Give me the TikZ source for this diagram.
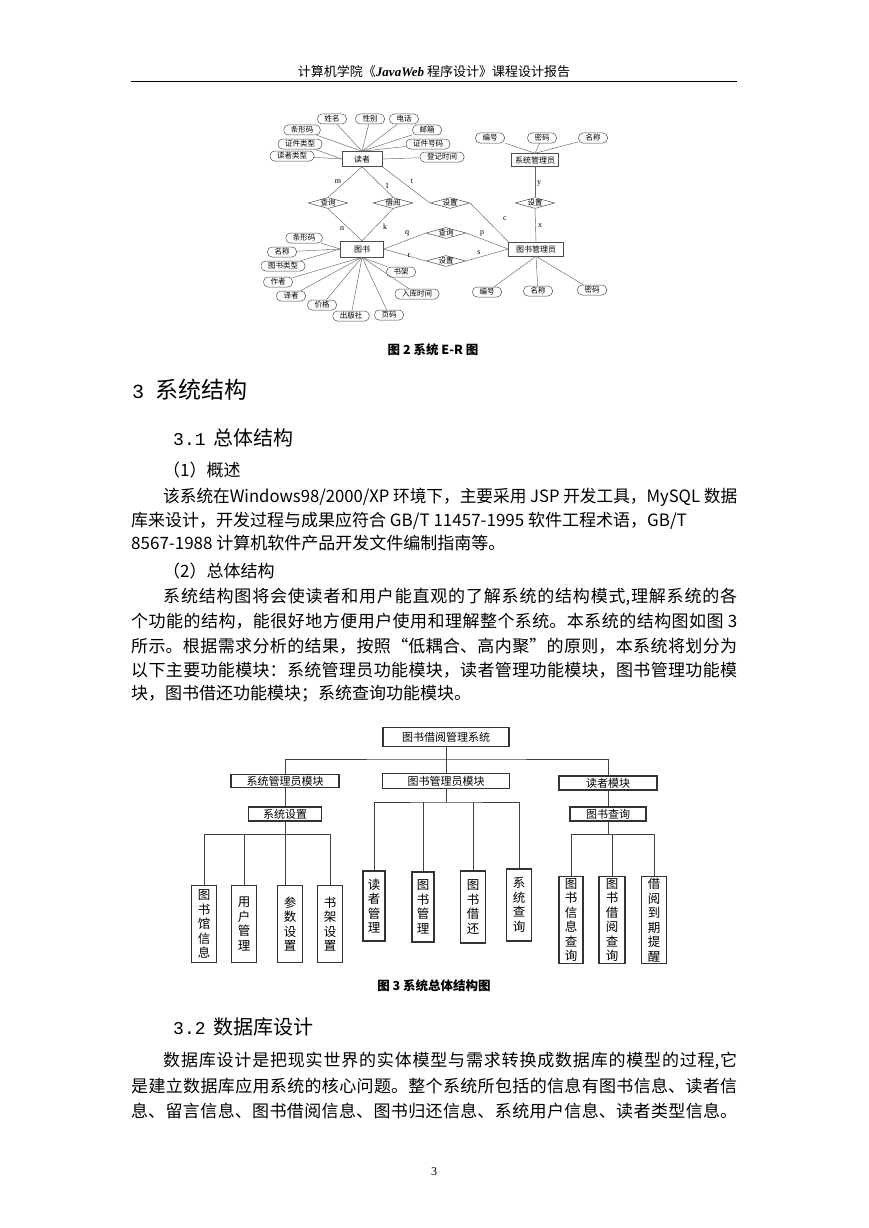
\documentclass[tikz,border=0pt]{standalone}
\usepackage{fontspec}
\usepackage{graphicx}
\setmainfont{Noto Sans CJK SC}
\newfontfamily\tnr{Liberation Serif}
\newfontfamily\mono{Liberation Mono}
\usetikzlibrary{shapes.geometric}
\XeTeXlinebreaklocale "zh"
\XeTeXlinebreakskip=0pt plus 3pt
\newcommand\fs[1]{\fontsize{#1}{#1}\selectfont}
\newcommand\bodyf{\fontsize{17}{17}\selectfont}
\newcommand\jline[2]{\parbox{#1}{\parindent=0pt\parfillskip=0pt\relax #2}}
\begin{document}
\begin{tikzpicture}[x=1pt,y=-1pt,
  ent/.style={draw=black!70,line width=0.5pt,rectangle,inner sep=0pt,font=\fs{8}},
  attr/.style={draw=black!70,line width=0.5pt,rectangle,rounded corners=4.5pt,inner xsep=7pt,inner ysep=0pt,minimum height=10pt,font=\fs{7.5}},
  rel/.style={draw=black!70,line width=0.5pt,diamond,aspect=3.6,inner sep=0pt,font=\fs{7.5}},
  erline/.style={draw=black!60,line width=0.45pt},
  card/.style={font=\tnr\fs{8},inner sep=0pt},
  modbox/.style={draw=black!80,line width=1.1pt,inner sep=0pt,font=\fs{11}},
  leaf/.style={draw=black!80,line width=1.1pt,inner sep=0pt,align=center,font=\fontsize{12.5}{14.5}\selectfont},
  conn/.style={draw=black!75,line width=0.9pt},
  txt/.style={anchor=west,inner sep=0pt,font=\bodyf},
  figcap/.style={inner sep=0pt,font=\fs{12.5}\bfseries}
]
\useasboundingbox[fill=white] (0,0) rectangle (869,1228);

% header
\node[inner sep=0pt,font=\fs{13}] (hdr) at (434,72) {计算机学院《{\tnr\bfseries\itshape JavaWeb} 程序设计》课程设计报告};
\coordinate (hl) at (131,82);
\coordinate (hr) at (737,82);
\draw[line width=1pt] (hl) -- (hr);

% ===== E-R diagram =====
\node[ent,minimum width=40pt,minimum height=15pt] (reader) at (362,159) {读者};
\node[attr] (ra1) at (332,119) {姓名};
\node[attr] (ra2) at (370,119) {性别};
\node[attr] (ra3) at (404,119) {电话};
\node[attr] (ra4) at (302,130) {条形码};
\node[attr] (ra5) at (427,130) {邮箱};
\node[attr] (ra6) at (300,144) {证件类型};
\node[attr] (ra7) at (428,144) {证件号码};
\node[attr] (ra8) at (292,156) {读者类型};
\node[attr] (ra9) at (442,157) {登记时间};
\foreach \a in {ra1,ra2,ra3,ra4,ra5,ra7} \draw[erline] (\a) -- (reader.north);
\draw[erline] (ra6) -- (reader.west);
\draw[erline] (ra8) -- (reader.west);
\draw[erline] (ra9) -- (reader.east);

\node[ent,minimum width=47pt,minimum height=13pt] (sadm) at (535,160) {系统管理员};
\node[attr] (sa1) at (490,138) {编号};
\node[attr] (sa2) at (542,138) {密码};
\node[attr] (sa3) at (593,138) {名称};
\foreach \a in {sa1,sa2,sa3} \draw[erline] (\a) -- (sadm.north);

\node[rel] (rq1) at (328,203) {查询};
\node[rel] (rb) at (393,203) {借阅};
\node[rel] (rs1) at (450,203) {设置};
\node[rel] (rs2) at (535,203) {设置};

\node[ent,minimum width=43pt,minimum height=16pt] (book) at (362,249) {图书};
\node[ent,minimum width=55pt,minimum height=14pt] (badm) at (536,249) {图书管理员};
\node[rel] (rq2) at (446,233) {查询};
\node[rel] (rs3) at (446,261) {设置};

\node[attr] (ba1) at (304,238) {条形码};
\node[attr] (ba2) at (282,252) {名称};
\node[attr] (ba3) at (283,266) {图书类型};
\node[attr] (ba4) at (278,282) {作者};
\node[attr] (ba5) at (291,296) {译者};
\node[attr] (ba6) at (322,305) {价格};
\node[attr] (ba7) at (351,316) {出版社};
\node[attr] (ba8) at (389,315) {页码};
\node[attr] (ba9) at (417,294) {入库时间};
\node[attr] (ba10) at (401,272) {书架};
\foreach \a in {ba1,ba2,ba3} \draw[erline] (\a) -- (book.west);
\foreach \a in {ba4,ba5,ba6,ba7,ba8,ba9,ba10} \draw[erline] (\a) -- (book.south);

\node[attr] (ma1) at (487,292) {编号};
\node[attr] (ma2) at (538,291) {名称};
\node[attr] (ma3) at (592,290) {密码};
\foreach \a in {ma1,ma2,ma3} \draw[erline] (\a) -- (badm.south);

\draw[erline] (reader.south) -- (rq1.north);
\draw[erline] (reader.south) -- (rb.north);
\draw[erline] (reader.south east) -- (rs1.west);
\draw[erline] (rq1.south) -- (book.north);
\draw[erline] (rb.south) -- (book.north);
\draw[erline] (rs1.east) -- (badm.north west);
\draw[erline] (sadm.south) -- (rs2.north);
\draw[erline] (rs2.south) -- (badm.north);
\draw[erline] (book.east) -- (rq2.west);
\draw[erline] (rq2.east) -- (badm.west);
\draw[erline] (book.east) -- (rs3.west);
\draw[erline] (rs3.east) -- (badm.west);

\node[card] (cm) at (338,182) {m};
\node[card] (c1) at (387,186) {1};
\node[card] (ct) at (412,181) {t};
\node[card] (cn) at (342,229) {n};
\node[card] (ck) at (385,227) {k};
\node[card] (cc) at (505,219) {c};
\node[card] (cy) at (539,184) {y};
\node[card] (cx) at (540,226) {x};
\node[card] (cq) at (407,233) {q};
\node[card] (cp) at (482,233) {p};
\node[card] (cr) at (409,256) {r};
\node[card] (cs) at (479,253) {s};

\node[figcap] (cap2) at (433,350) {图 2 系统 E-R 图};

% headings
\node[anchor=west,inner sep=0pt,font=\fs{23}] (h3) at (132,390) {{\mono\fs{20}3}\hspace{11pt}系统结构};
\node[anchor=west,inner sep=0pt,font=\fs{20}] (h31) at (173,438) {{\mono\fs{18}3.1}\hspace{8pt}总体结构};

% body text
\node[txt] (p1a) at (163,470) {（1）概述};
\node[txt] (p1b) at (163,497) {\resizebox{574pt}{\height}{该系统在Windows98/2000/XP 环境下，主要采用 JSP 开发工具，MySQL 数据}};
\node[txt] (p1c) at (131,521) {库来设计，开发过程与成果应符合 GB/T 11457-1995 软件工程术语，GB/T};
\node[txt] (p1d) at (131,543) {8567-1988 计算机软件产品开发文件编制指南等。};
\node[txt] (p2a) at (163,571) {（2）总体结构};
\node[txt] (p2b) at (163,597) {\jline{574pt}{系统结构图将会使读者和用户能直观的了解系统的结构模式,理解系统的各}};
\node[txt] (p2c) at (131,621) {\jline{606pt}{个功能的结构，能很好地方便用户使用和理解整个系统。本系统的结构图如图 3}};
\node[txt] (p2d) at (131,646) {\jline{606pt}{所示。根据需求分析的结果，按照“低耦合、高内聚”的原则，本系统将划分为}};
\node[txt] (p2e) at (131,670) {\jline{606pt}{以下主要功能模块：系统管理员功能模块，读者管理功能模块，图书管理功能模}};
\node[txt] (p2f) at (131,694) {块，图书借还功能模块；系统查询功能模块。};

% ===== structure diagram =====
\node[modbox,minimum width=126pt,minimum height=19pt] (root) at (446,737) {图书借阅管理系统};
\node[modbox,minimum width=108pt,minimum height=13pt] (mA) at (285,781) {系统管理员模块};
\node[modbox,minimum width=127pt,minimum height=15pt] (mB) at (446,781) {图书管理员模块};
\node[modbox,minimum width=98pt,minimum height=14pt] (mC) at (608,783) {读者模块};
\node[modbox,minimum width=73pt,minimum height=14pt] (sA) at (285,814) {系统设置};
\node[modbox,minimum width=76pt,minimum height=14pt] (sC) at (608,814) {图书查询};

\node[leaf,minimum width=25pt,minimum height=77pt] (L1) at (204,924) {图\\书\\馆\\信\\息};
\node[leaf,minimum width=25pt,minimum height=77pt] (L2) at (244,924) {用\\户\\管\\理};
\node[leaf,minimum width=25pt,minimum height=77pt] (L3) at (290,924) {参\\数\\设\\置};
\node[leaf,minimum width=25pt,minimum height=77pt] (L4) at (330,924) {书\\架\\设\\置};
\node[leaf,minimum width=22pt,minimum height=70pt] (L5) at (374,906) {读\\者\\管\\理};
\node[leaf,minimum width=22pt,minimum height=70pt] (L6) at (423,907) {图\\书\\管\\理};
\node[leaf,minimum width=25pt,minimum height=72pt] (L7) at (473,907) {图\\书\\借\\还};
\node[leaf,minimum width=25pt,minimum height=72pt] (L8) at (519,905) {系\\统\\查\\询};
\node[leaf,minimum width=24pt,minimum height=87pt] (L9) at (571,920) {图\\书\\信\\息\\查\\询};
\node[leaf,minimum width=26pt,minimum height=87pt] (L10) at (612,920) {图\\书\\借\\阅\\查\\询};
\node[leaf,minimum width=25pt,minimum height=87pt] (L11) at (654,920) {借\\阅\\到\\期\\提\\醒};

\coordinate (j0) at (446,759);
\coordinate (j1) at (285,834);
\coordinate (j2) at (446,802);
\coordinate (j3) at (608,834);
\draw[conn] (root.south) -- (mB.north);
\draw[conn] (mA.north) |- (j0) -| (mC.north);
\draw[conn] (mA.south) -- (sA.north);
\draw[conn] (mC.south) -- (sC.north);
\draw[conn] (sA.south) -- (j1);
\draw[conn] (L1.north) |- (j1) -| (L4.north);
\draw[conn] (L2.north) -- (L2.north |- j1);
\draw[conn] (L3.north -| j1) -- (j1);
\draw[conn] (mB.south) -- (j2);
\draw[conn] (L5.north) |- (j2) -| (L8.north);
\draw[conn] (L6.north) -- (L6.north |- j2);
\draw[conn] (L7.north) -- (L7.north |- j2);
\draw[conn] (sC.south) -- (j3);
\draw[conn] (L9.north) |- (j3) -| (L11.north);
\draw[conn] (L10.north) -- (L10.north |- j3);

\node[figcap] (cap3) at (434,986) {图 3 系统总体结构图};

\node[anchor=west,inner sep=0pt,font=\fs{20}] (h32) at (173,1027) {{\mono\fs{18}3.2}\hspace{8pt}数据库设计};
\node[txt] (p3a) at (163,1061) {\jline{574pt}{数据库设计是把现实世界的实体模型与需求转换成数据库的模型的过程,它}};
\node[txt] (p3b) at (131,1086) {\jline{606pt}{是建立数据库应用系统的核心问题。整个系统所包括的信息有图书信息、读者信}};
\node[txt] (p3c) at (131,1111) {\jline{606pt}{息、留言信息、图书借阅信息、图书归还信息、系统用户信息、读者类型信息。}};

\node[inner sep=0pt,font=\tnr\fs{12}] (pg) at (434,1172) {3};
\end{tikzpicture}
\end{document}
